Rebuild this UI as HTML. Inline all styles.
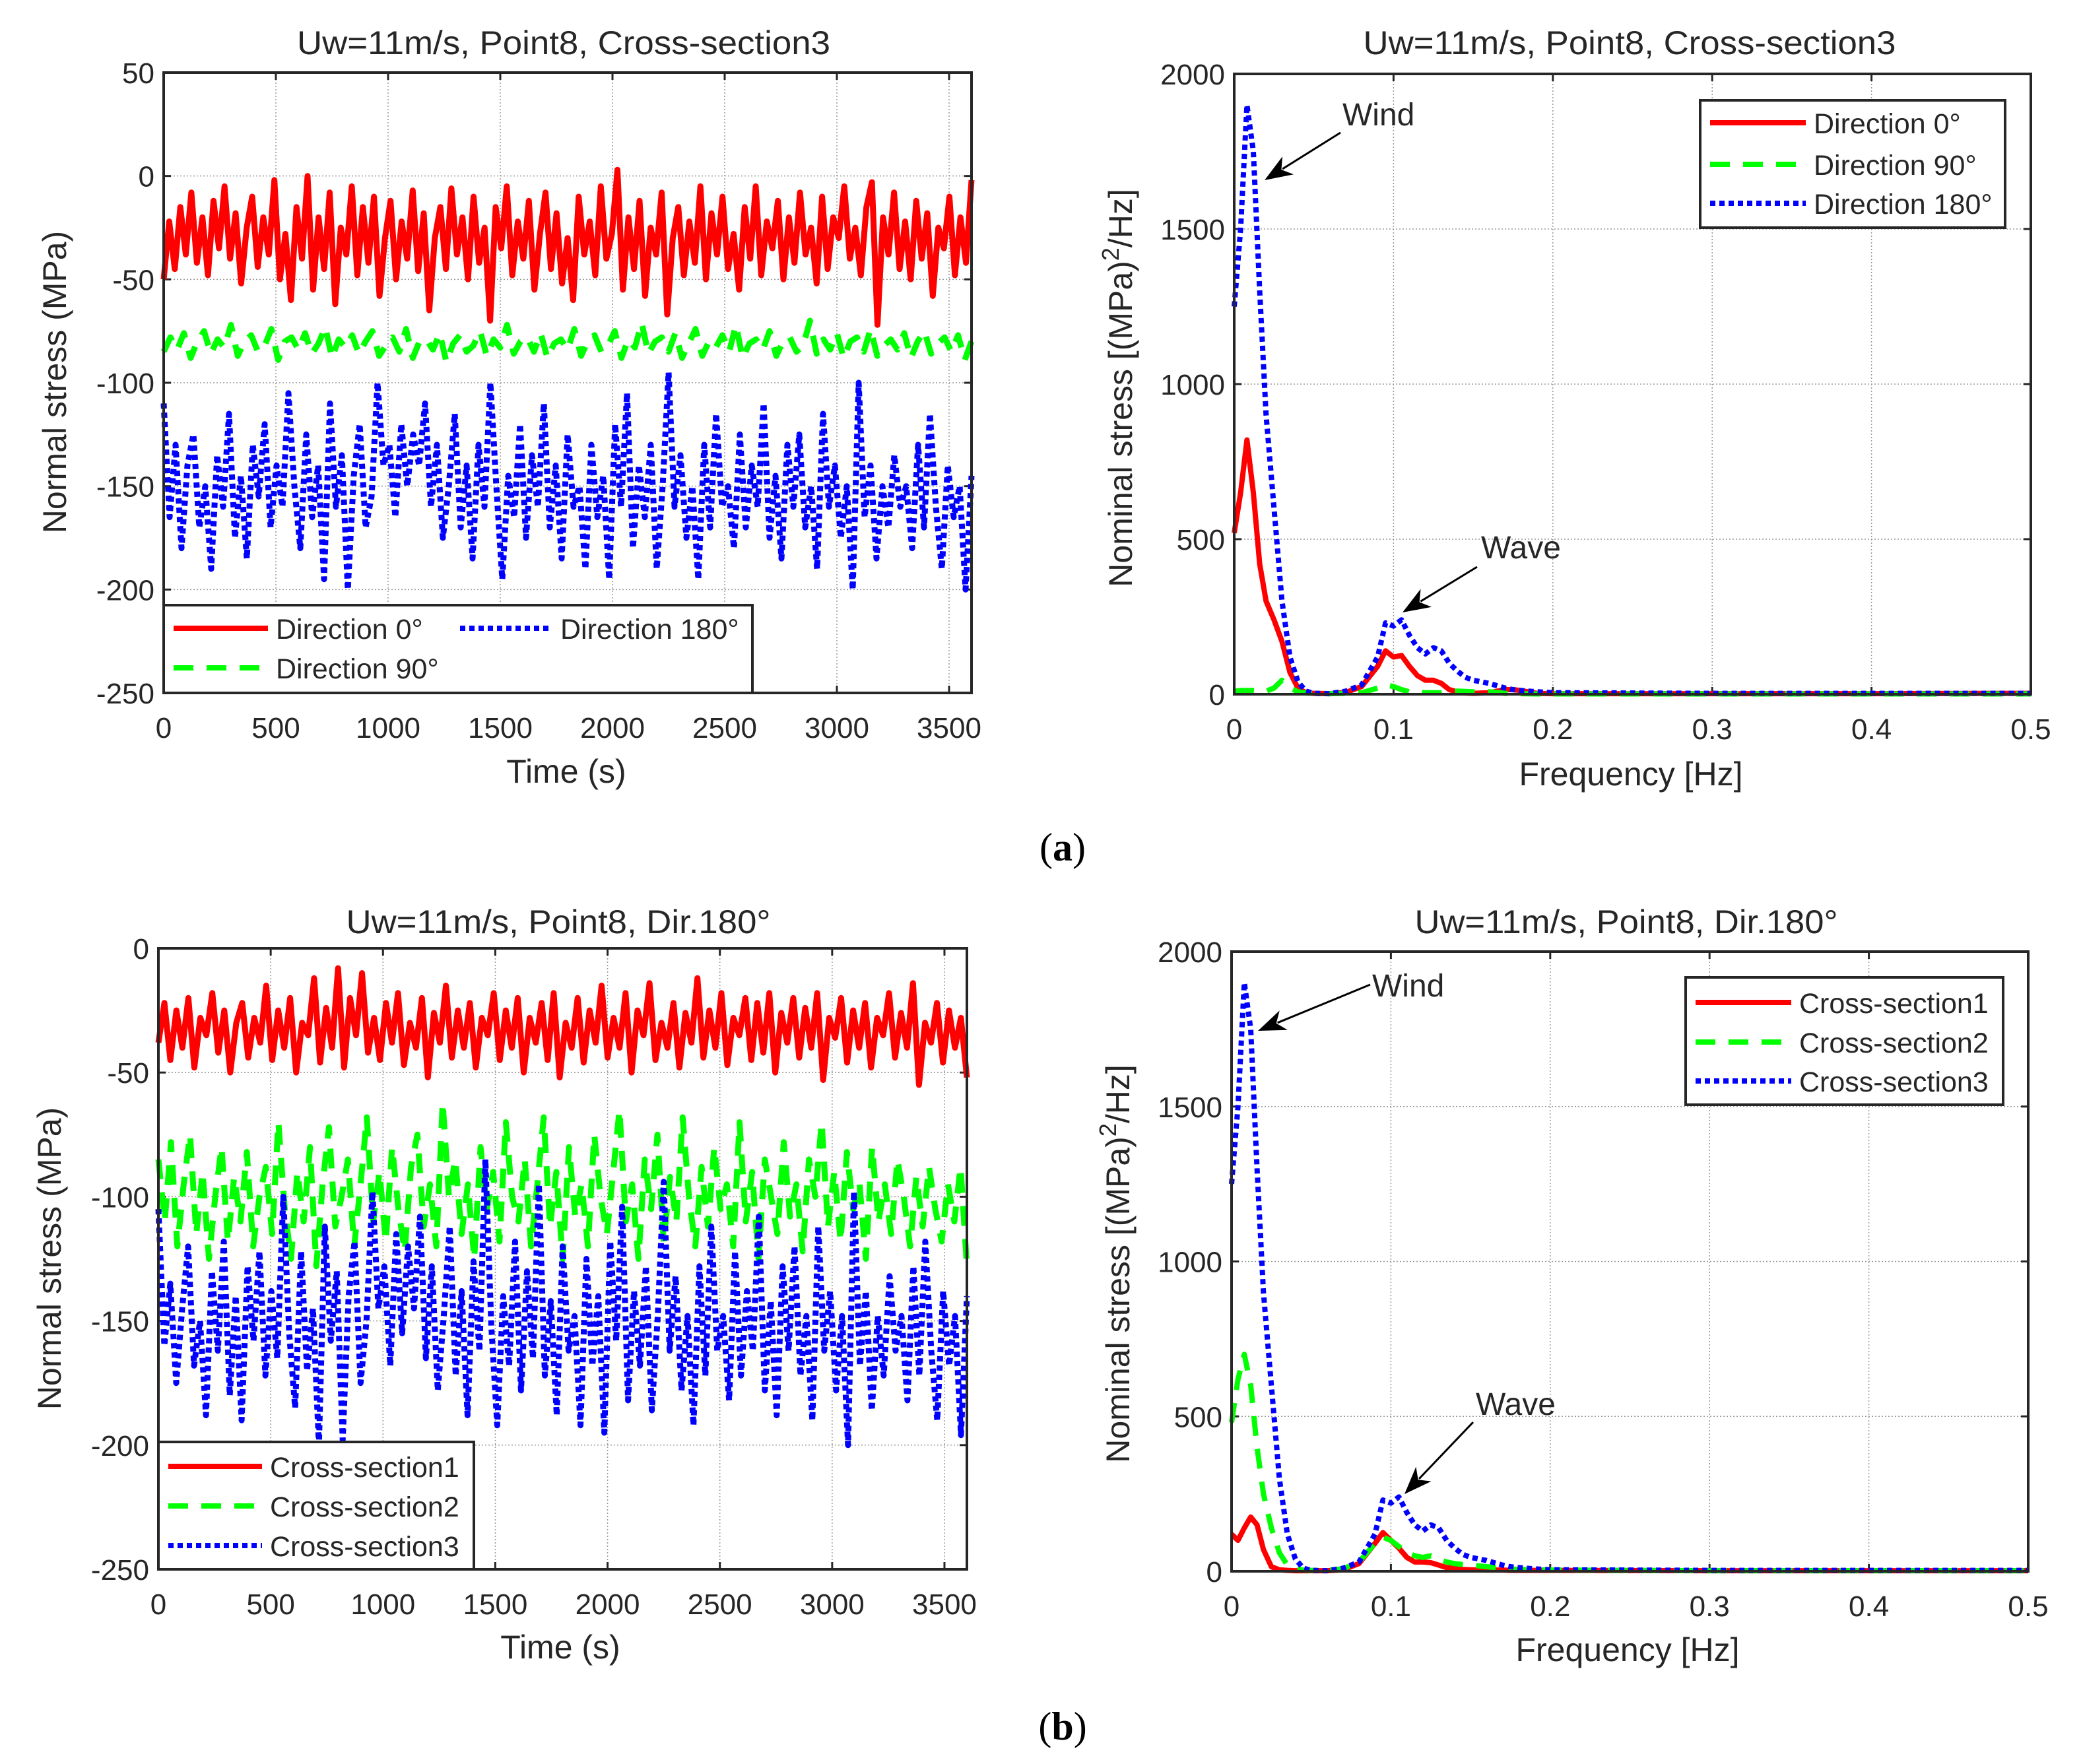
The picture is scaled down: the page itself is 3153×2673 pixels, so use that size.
<!DOCTYPE html>
<html><head><meta charset="utf-8"><style>
html,body{margin:0;padding:0;background:#fff;}
svg{display:block;font-family:"Liberation Sans",Arial,sans-serif;}
</style></head><body>
<svg id="fig" width="3153" height="2673" viewBox="0 0 3153 2673" xmlns="http://www.w3.org/2000/svg">
<rect x="0" y="0" width="3153" height="2673" fill="#fff"/>
</svg>
<script>
// ---------- data ----------
const timeMax = 3600;
const aRed = [-50,-22,-45,-15,-38,-8,-42,-20,-48,-12,-35,-5,-40,-18,-52,-25,-10,-44,-20,-38,-2,-50,-28,-60,-15,-40,0,-55,-20,-45,-8,-62,-25,-38,-5,-48,-15,-42,-10,-58,-30,-12,-50,-22,-40,-7,-46,-18,-65,-30,-15,-45,-6,-38,-20,-50,-10,-42,-25,-70,-15,-35,-5,-48,-22,-40,-12,-55,-28,-8,-45,-18,-52,-30,-60,-10,-38,-22,-48,-5,-40,-28,3,-55,-20,-45,-12,-58,-25,-38,-8,-67,-30,-15,-48,-22,-42,-5,-50,-18,-38,-10,-45,-28,-55,-15,-40,-5,-48,-22,-35,-12,-50,-20,-42,-8,-38,-25,-52,-10,-45,-20,-30,-5,-40,-25,-48,-15,-3,-72,-20,-38,-8,-45,-22,-50,-12,-40,-18,-58,-25,-35,-10,-48,-20,-42,-2];
const aGreen = [-85,-78,-84,-76,-88,-80,-75,-86,-79,-83,-72,-87,-80,-77,-85,-82,-74,-89,-80,-78,-84,-76,-86,-81,-73,-88,-79,-83,-77,-86,-80,-75,-87,-82,-78,-85,-74,-88,-80,-79,-84,-76,-90,-81,-77,-85,-82,-75,-87,-79,-83,-72,-86,-80,-78,-85,-76,-88,-81,-79,-84,-74,-87,-80,-77,-85,-82,-75,-88,-79,-83,-71,-86,-80,-78,-85,-76,-88,-81,-74,-87,-80,-83,-77,-85,-72,-88,-81,-79,-84,-75,-87,-80,-78,-85,-82,-70,-86,-79,-84,-76,-88,-80,-78,-85,-74,-87,-82,-79,-84,-76,-88,-80,-75,-86,-81,-78,-85,-77,-89,-80];
const aBlue = [-110,-165,-130,-180,-140,-125,-170,-150,-190,-135,-160,-115,-175,-145,-185,-130,-155,-120,-170,-140,-160,-105,-150,-180,-125,-165,-140,-195,-110,-160,-135,-200,-145,-120,-170,-155,-100,-140,-130,-165,-120,-150,-125,-140,-110,-160,-130,-175,-150,-115,-170,-140,-185,-130,-160,-100,-150,-195,-145,-165,-120,-175,-135,-160,-110,-170,-140,-185,-125,-160,-150,-190,-130,-165,-145,-195,-120,-160,-105,-180,-140,-165,-130,-190,-150,-95,-160,-135,-175,-150,-195,-130,-170,-115,-160,-150,-180,-125,-170,-140,-160,-110,-175,-145,-185,-130,-160,-125,-170,-150,-190,-115,-160,-140,-175,-150,-200,-100,-165,-140,-185,-150,-170,-135,-160,-150,-180,-130,-170,-115,-160,-190,-140,-165,-150,-200,-145];
const bRed = [-38,-22,-45,-25,-40,-20,-48,-28,-35,-18,-42,-25,-50,-30,-22,-44,-28,-38,-15,-45,-25,-40,-20,-50,-30,-35,-12,-46,-24,-40,-8,-48,-20,-35,-10,-42,-28,-45,-22,-38,-18,-47,-30,-40,-20,-52,-26,-38,-15,-44,-25,-40,-22,-48,-28,-35,-18,-45,-25,-40,-20,-50,-28,-38,-22,-45,-18,-52,-30,-40,-20,-46,-25,-38,-15,-44,-28,-40,-18,-50,-25,-35,-14,-45,-30,-40,-22,-48,-26,-38,-12,-44,-25,-40,-18,-47,-28,-35,-20,-45,-22,-42,-18,-50,-26,-38,-20,-44,-24,-40,-18,-53,-28,-36,-20,-46,-25,-40,-22,-48,-28,-35,-18,-44,-26,-40,-14,-55,-30,-38,-22,-46,-25,-40,-28,-52];
const bGreen = [-85,-110,-78,-120,-95,-75,-115,-90,-125,-100,-80,-118,-92,-110,-82,-120,-100,-88,-115,-70,-105,-125,-90,-110,-80,-128,-95,-72,-112,-100,-85,-120,-95,-68,-110,-90,-118,-80,-105,-122,-88,-75,-112,-95,-120,-62,-100,-85,-115,-95,-125,-80,-105,-90,-118,-70,-100,-110,-85,-120,-95,-68,-112,-90,-125,-80,-108,-95,-120,-75,-100,-115,-90,-65,-110,-95,-125,-85,-105,-75,-118,-92,-110,-68,-100,-120,-88,-112,-80,-105,-95,-120,-70,-110,-90,-125,-85,-100,-115,-78,-108,-95,-122,-85,-100,-70,-112,-90,-118,-82,-105,-95,-125,-80,-110,-95,-115,-85,-100,-120,-92,-112,-88,-105,-118,-95,-110,-88,-128];
const bBlue = [-105,-160,-135,-175,-145,-120,-168,-150,-188,-130,-162,-118,-180,-140,-190,-128,-158,-122,-172,-138,-165,-100,-155,-185,-122,-170,-145,-200,-112,-158,-130,-198,-140,-118,-175,-150,-98,-145,-128,-168,-115,-155,-120,-145,-108,-165,-128,-178,-148,-112,-172,-138,-188,-126,-162,-85,-152,-192,-140,-168,-118,-178,-130,-165,-95,-172,-142,-188,-120,-162,-148,-192,-125,-168,-140,-195,-118,-158,-104,-182,-138,-168,-128,-186,-148,-94,-162,-132,-178,-148,-192,-128,-172,-112,-162,-148,-182,-122,-172,-138,-162,-108,-178,-142,-188,-128,-162,-120,-172,-148,-190,-112,-162,-138,-178,-148,-200,-98,-168,-138,-186,-148,-172,-132,-162,-148,-182,-128,-172,-118,-162,-190,-138,-168,-148,-196,-140];

const freqA = [0,0.004,0.008,0.012,0.016,0.02,0.025,0.03,0.035,0.04,0.045,0.05,0.06,0.07,0.08,0.09,0.095,0.1,0.105,0.11,0.115,0.12,0.125,0.13,0.135,0.14,0.145,0.15,0.16,0.17,0.175,0.18,0.19,0.2,0.3,0.4,0.5];
const psdARed = [520,650,820,650,420,300,240,170,70,20,5,3,2,6,25,90,140,120,125,90,60,45,45,35,15,8,4,3,5,15,15,12,3,2,2,2,3];
const psdAGreen = [10,12,12,12,10,10,20,45,20,8,4,3,2,3,5,20,30,25,15,8,6,5,5,5,8,10,9,8,8,3,2,2,1,1,1,1,1];
const psdABlue = [1250,1500,1900,1750,1300,900,600,300,120,40,10,3,2,10,30,120,230,220,240,190,150,130,150,140,100,75,55,45,35,20,15,12,8,5,3,3,3];
const freqB = [0,0.004,0.008,0.012,0.016,0.02,0.025,0.03,0.035,0.04,0.045,0.05,0.06,0.07,0.08,0.09,0.095,0.1,0.105,0.11,0.115,0.12,0.125,0.13,0.135,0.14,0.145,0.15,0.16,0.17,0.175,0.18,0.19,0.2,0.3,0.4,0.5];
const psdBRed = [120,100,140,175,150,70,15,5,3,2,2,2,2,5,25,90,125,100,75,45,30,30,28,20,12,10,6,5,4,4,3,3,3,3,2,2,2];
const psdBGreen = [480,620,700,600,400,250,140,60,20,8,4,3,3,8,30,90,110,100,80,60,50,45,50,40,30,25,22,20,15,10,8,6,5,4,2,2,2];
const psdBBlue = [1250,1500,1900,1750,1300,900,600,300,120,40,10,3,2,10,30,120,230,220,240,190,150,130,150,140,100,75,55,45,35,20,15,12,8,5,3,3,3];

const timeTicks = [0,500,1000,1500,2000,2500,3000,3500];
const stressTicksA = [50,0,-50,-100,-150,-200,-250];
const stressTicksB = [0,-50,-100,-150,-200,-250];
const freqTicks = [0,0.1,0.2,0.3,0.4,0.5];
const freqTickLabels = ['0','0.1','0.2','0.3','0.4','0.5'];
const psdTicks = [0,500,1000,1500,2000];

// ---------- helpers ----------
const NS = 'http://www.w3.org/2000/svg';
const svg = document.getElementById('fig');
function mk(tag, attrs, parent){
  const e = document.createElementNS(NS, tag);
  for (const k in attrs) e.setAttribute(k, attrs[k]);
  (parent||svg).appendChild(e);
  return e;
}
function txt(s, x, y, size, anchor, parent){
  const t = mk('text', {x:x, y:y, 'font-size':size, 'text-anchor':anchor||'middle', fill:'#262626'}, parent);
  t.textContent = s;
  return t;
}
const RED='#ff0000', GREEN='#00ff00', BLUE='#0000ff';
const styleOf = {
  solid:{stroke:RED, dash:'none'},
  dash:{stroke:GREEN, dash:'30 20'},
  dot:{stroke:BLUE, dash:'8 6'}
};

function axes(P, name){
  const g = mk('g', {});
  
  
  const sx = v => P.x0 + (v - P.xmin) / (P.xmax - P.xmin) * (P.x1 - P.x0);
  const sy = v => P.y1 - (v - P.ymin) / (P.ymax - P.ymin) * (P.y1 - P.y0);
  P.xt.forEach((v,i) => {
    const X = sx(v);
    const gl = mk('line', {x1:X, y1:P.y0, x2:X, y2:P.y1, stroke:'#9a9a9a', 'stroke-width':1.5, 'stroke-dasharray':'2 3'}, g);
    
    
    mk('line', {x1:X, y1:P.y1, x2:X, y2:P.y1-11, stroke:'#262626', 'stroke-width':3}, g);
    mk('line', {x1:X, y1:P.y0, x2:X, y2:P.y0+11, stroke:'#262626', 'stroke-width':3}, g);
    const t = txt(P.xl ? P.xl[i] : String(v), X, P.y1+68, 44, 'middle', g);
    
    
  });
  P.yt.forEach(v => {
    const Y = sy(v);
    const gl = mk('line', {x1:P.x0, y1:Y, x2:P.x1, y2:Y, stroke:'#9a9a9a', 'stroke-width':1.5, 'stroke-dasharray':'2 3'}, g);
    
    
    mk('line', {x1:P.x0, y1:Y, x2:P.x0+11, y2:Y, stroke:'#262626', 'stroke-width':3}, g);
    mk('line', {x1:P.x1, y1:Y, x2:P.x1-11, y2:Y, stroke:'#262626', 'stroke-width':3}, g);
    const t = txt(String(v), P.x0-14, Y+16, 44, 'end', g);
    
    
  });
  return {g, sx, sy};
}
function frame(P, g){
  const r = mk('rect', {x:P.x0, y:P.y0, width:P.x1-P.x0, height:P.y1-P.y0, fill:'none', stroke:'#262626', 'stroke-width':4}, g);
  
  
}
function seriesTime(A, vals, st, name){
  const n = vals.length;
  const pts = vals.map((v,i) => A.sx(i*timeMax/(n-1)).toFixed(1)+','+A.sy(v).toFixed(1)).join(' ');
  const s = styleOf[st];
  const pl = mk('polyline', {points:pts, fill:'none', stroke:s.stroke, 'stroke-width':9, 'stroke-dasharray':s.dash, 'stroke-linejoin':'round'}, A.g);
  
  
}
function seriesXY(A, xs, vals, st, name){
  const pts = vals.map((v,i) => A.sx(xs[i]).toFixed(1)+','+A.sy(v).toFixed(1)).join(' ');
  const s = styleOf[st];
  const pl = mk('polyline', {points:pts, fill:'none', stroke:s.stroke, 'stroke-width':8, 'stroke-dasharray':s.dash, 'stroke-linejoin':'round'}, A.g);
  
  
}
function legend(box, entries, name){
  const g = mk('g', {});
  
  
  mk('rect', {x:box.x, y:box.y, width:box.w, height:box.h, fill:'#fff', stroke:'#262626', 'stroke-width':4}, g);
  entries.forEach(e => {
    const s = styleOf[e.st];
    const ln = mk('line', {x1:e.lx, y1:e.y, x2:e.lx+e.lw, y2:e.y, stroke:s.stroke, 'stroke-width':8, 'stroke-dasharray':s.dash}, g);
    
    
    const t = txt(e.label, e.lx+e.lw+12, e.y+16, 43, 'start', g);
    
    
  });
}
function arrow(x1,y1,x2,y2,name){
  const g = mk('g', {});
  
  
  const dx=x2-x1, dy=y2-y1, L=Math.hypot(dx,dy), ux=dx/L, uy=dy/L;
  const hl=42, hw=16;
  const bx=x2-ux*hl, by=y2-uy*hl;
  mk('line', {x1:x1, y1:y1, x2:bx+ux*10, y2:by+uy*10, stroke:'#000', 'stroke-width':3}, g);
  mk('polygon', {points:`${x2},${y2} ${bx-uy*hw},${by+ux*hw} ${bx+ux*12},${by+uy*12} ${bx+uy*hw},${by-ux*hw}`, fill:'#000'}, g);
}
function ylabel(s, x, y, sup, name){
  const t = mk('text', {x:0, y:0, 'font-size':50, 'text-anchor':'middle', fill:'#262626', transform:`translate(${x},${y}) rotate(-90)`});
  
  
  if (!sup){ t.textContent = s; return; }
  const a = mk('tspan', {}, t); a.textContent = 'Nominal stress [(MPa)';
  const b = mk('tspan', {dy:-20, 'font-size':36}, t); b.textContent = '2';
  const c = mk('tspan', {dy:20}, t); c.textContent = '/Hz]';
}
function title(s, x, y, w, name){
  const t = txt(s, x, y, 50, 'middle');
  t.setAttribute('textLength', w);
  t.setAttribute('lengthAdjust', 'spacingAndGlyphs');
  
  
}

// ---------- panel a-left ----------
const PA1 = {x0:248,x1:1472,y0:110,y1:1050,xmin:0,xmax:3600,ymin:-250,ymax:50,xt:timeTicks,yt:stressTicksA};
const A1 = axes(PA1, 'time-series-plot-a');
seriesTime(A1, aRed, 'solid', 'series-direction-0');
seriesTime(A1, aGreen, 'dash', 'series-direction-90');
seriesTime(A1, aBlue, 'dot', 'series-direction-180');
frame(PA1, A1.g);
legend({x:248,y:917,w:892,h:133}, [
  {lx:263,lw:143,y:952,st:'solid',label:'Direction 0°'},
  {lx:697,lw:140,y:952,st:'dot',label:'Direction 180°'},
  {lx:263,lw:143,y:1012,st:'dash',label:'Direction 90°'}
], 'legend-a-left');
title('Uw=11m/s, Point8, Cross-section3', 854, 82, 808, 'title-a-left');
ylabel('Normal stress (MPa)', 100, 579, false, 'y-axis-title-a-left');
{ const t = txt('Time (s)', 858, 1186, 50);   }

// ---------- panel a-right ----------
const PA2 = {x0:1870,x1:3077,y0:112,y1:1052,xmin:0,xmax:0.5,ymin:0,ymax:2000,xt:freqTicks,xl:freqTickLabels,yt:psdTicks};
const A2 = axes(PA2, 'psd-plot-a');
seriesXY(A2, freqA, psdARed, 'solid', 'psd-direction-0');
seriesXY(A2, freqA, psdAGreen, 'dash', 'psd-direction-90');
seriesXY(A2, freqA, psdABlue, 'dot', 'psd-direction-180');
frame(PA2, A2.g);
legend({x:2576,y:152,w:462,h:193}, [
  {lx:2591,lw:145,y:186,st:'solid',label:'Direction 0°'},
  {lx:2591,lw:145,y:249,st:'dash',label:'Direction 90°'},
  {lx:2591,lw:145,y:308,st:'dot',label:'Direction 180°'}
], 'legend-a-right');
title('Uw=11m/s, Point8, Cross-section3', 2469, 82, 807, 'title-a-right');
ylabel('', 1715, 588, true, 'y-axis-title-a-right');
{ const t = txt('Frequency [Hz]', 2471, 1190, 50);   }
{ const t = txt('Wind', 2034, 190, 48, 'start');   }
arrow(2031, 201, 1916, 273, 'wind-arrow-a');
{ const t = txt('Wave', 2244, 846, 48, 'start');   }
arrow(2238, 859, 2125, 928, 'wave-arrow-a');

// ---------- panel b-left ----------
const PB1 = {x0:240,x1:1465,y0:1437,y1:2378,xmin:0,xmax:3600,ymin:-250,ymax:0,xt:timeTicks,yt:stressTicksB};
const B1 = axes(PB1, 'time-series-plot-b');
seriesTime(B1, bRed, 'solid', 'series-cross-section-1');
seriesTime(B1, bGreen, 'dash', 'series-cross-section-2');
seriesTime(B1, bBlue, 'dot', 'series-cross-section-3');
frame(PB1, B1.g);
legend({x:240,y:2185,w:478,h:193}, [
  {lx:255,lw:142,y:2222,st:'solid',label:'Cross-section1'},
  {lx:255,lw:142,y:2282,st:'dash',label:'Cross-section2'},
  {lx:255,lw:142,y:2342,st:'dot',label:'Cross-section3'}
], 'legend-b-left');
title('Uw=11m/s, Point8, Dir.180°', 846, 1414, 643, 'title-b-left');
ylabel('Normal stress (MPa)', 92, 1907, false, 'y-axis-title-b-left');
{ const t = txt('Time (s)', 849, 2513, 50);   }

// ---------- panel b-right ----------
const PB2 = {x0:1866,x1:3073,y0:1442,y1:2381,xmin:0,xmax:0.5,ymin:0,ymax:2000,xt:freqTicks,xl:freqTickLabels,yt:psdTicks};
const B2 = axes(PB2, 'psd-plot-b');
seriesXY(B2, freqB, psdBRed, 'solid', 'psd-cross-section-1');
seriesXY(B2, freqB, psdBGreen, 'dash', 'psd-cross-section-2');
seriesXY(B2, freqB, psdBBlue, 'dot', 'psd-cross-section-3');
frame(PB2, B2.g);
legend({x:2554,y:1481,w:481,h:193}, [
  {lx:2569,lw:145,y:1519,st:'solid',label:'Cross-section1'},
  {lx:2569,lw:145,y:1579,st:'dash',label:'Cross-section2'},
  {lx:2569,lw:145,y:1638,st:'dot',label:'Cross-section3'}
], 'legend-b-right');
title('Uw=11m/s, Point8, Dir.180°', 2464, 1414, 641, 'title-b-right');
ylabel('', 1711, 1915, true, 'y-axis-title-b-right');
{ const t = txt('Frequency [Hz]', 2466, 2517, 50);   }
{ const t = txt('Wind', 2079, 1510, 48, 'start');   }
arrow(2076, 1492, 1906, 1562, 'wind-arrow-b');
{ const t = txt('Wave', 2236, 2144, 48, 'start');   }
arrow(2232, 2155, 2128, 2264, 'wave-arrow-b');

// ---------- sublabels ----------
{ const t = mk('text', {x:1610, y:1304, 'font-size':60, 'text-anchor':'middle', fill:'#000', 'font-family':'"Liberation Serif",serif'});
   
  t.innerHTML = '(<tspan font-weight="bold">a</tspan>)'; }
{ const t = mk('text', {x:1610, y:2636, 'font-size':60, 'text-anchor':'middle', fill:'#000', 'font-family':'"Liberation Serif",serif'});
   
  t.innerHTML = '(<tspan font-weight="bold">b</tspan>)'; }
</script>
</body></html>
